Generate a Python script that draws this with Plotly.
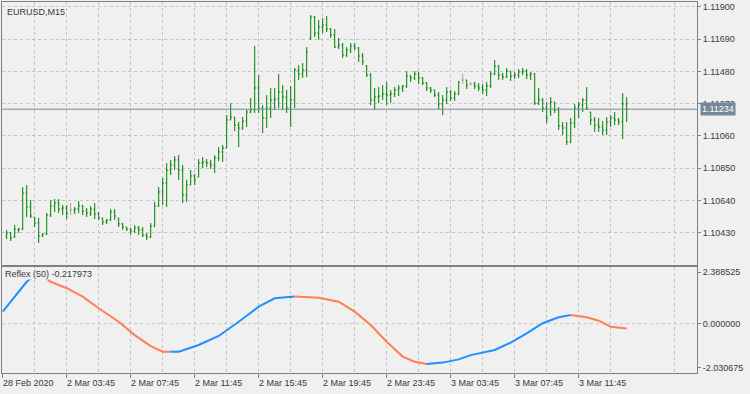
import plotly.graph_objects as go

# ---------------- data ----------------
bars = list(range(156))
open_ = [1.10410,1.10429,1.10403,1.10449,1.10455,1.10689,1.10598,1.10533,1.10494,1.10410,
         1.10423,1.10546,1.10605,1.10624,1.10585,1.10592,1.10579,1.10579,1.10585,1.10605,
         1.10572,1.10559,1.10585,1.10553,1.10527,1.10501,1.10514,1.10566,1.10527,1.10488,
         1.10468,1.10455,1.10442,1.10462,1.10449,1.10416,1.10403,1.10475,1.10605,1.10696,
         1.10754,1.10839,1.10871,1.10904,1.10839,1.10676,1.10741,1.10800,1.10793,1.10884,
         1.10891,1.10884,1.10871,1.10917,1.10956,1.10982,1.11164,1.11183,1.11131,1.11112,
         1.11157,1.11216,1.11229,1.11372,1.11242,1.11177,1.11242,1.11294,1.11300,1.11346,
         1.11313,1.11242,1.11294,1.11489,1.11463,1.11489,1.11697,1.11833,1.11729,1.11768,
         1.11781,1.11755,1.11716,1.11638,1.11651,1.11586,1.11619,1.11645,1.11632,1.11580,
         1.11515,1.11456,1.11294,1.11313,1.11320,1.11333,1.11326,1.11333,1.11359,1.11372,
         1.11385,1.11450,1.11437,1.11463,1.11437,1.11404,1.11372,1.11359,1.11326,1.11268,
         1.11294,1.11346,1.11307,1.11333,1.11424,1.11424,1.11398,1.11398,1.11385,1.11372,
         1.11359,1.11385,1.11463,1.11515,1.11456,1.11443,1.11482,1.11450,1.11456,1.11476,
         1.11482,1.11456,1.11463,1.11274,1.11294,1.11242,1.11216,1.11281,1.11229,1.11125,
         1.11112,1.11021,1.11144,1.11242,1.11261,1.11294,1.11216,1.11164,1.11131,1.11118,
         1.11099,1.11151,1.11177,1.11164,1.11151,1.11268]
high = [1.10449,1.10436,1.10481,1.10462,1.10728,1.10741,1.10644,1.10533,1.10527,1.10429,
        1.10559,1.10644,1.10650,1.10650,1.10611,1.10611,1.10624,1.10598,1.10637,1.10611,
        1.10592,1.10605,1.10624,1.10566,1.10527,1.10520,1.10585,1.10585,1.10527,1.10494,
        1.10468,1.10462,1.10481,1.10475,1.10468,1.10429,1.10494,1.10631,1.10728,1.10787,
        1.10884,1.10904,1.10930,1.10936,1.10871,1.10774,1.10839,1.10813,1.10910,1.10923,
        1.10910,1.10904,1.10936,1.10988,1.11001,1.11196,1.11274,1.11183,1.11151,1.11183,
        1.11229,1.11307,1.11645,1.11456,1.11261,1.11326,1.11372,1.11372,1.11463,1.11391,
        1.11359,1.11385,1.11502,1.11521,1.11534,1.11638,1.11846,1.11840,1.11814,1.11827,
        1.11840,1.11762,1.11755,1.11697,1.11664,1.11638,1.11664,1.11664,1.11638,1.11599,
        1.11521,1.11469,1.11372,1.11378,1.11391,1.11411,1.11359,1.11378,1.11391,1.11391,
        1.11482,1.11456,1.11482,1.11476,1.11443,1.11411,1.11378,1.11359,1.11346,1.11326,
        1.11378,1.11359,1.11352,1.11417,1.11463,1.11424,1.11411,1.11411,1.11404,1.11398,
        1.11411,1.11482,1.11554,1.11521,1.11469,1.11502,1.11482,1.11476,1.11495,1.11502,
        1.11495,1.11476,1.11469,1.11372,1.11307,1.11281,1.11313,1.11281,1.11248,1.11151,
        1.11151,1.11177,1.11268,1.11281,1.11307,1.11378,1.11216,1.11183,1.11177,1.11157,
        1.11183,1.11196,1.11216,1.11177,1.11339,1.11313]
low = [1.10390,1.10377,1.10397,1.10429,1.10449,1.10533,1.10527,1.10468,1.10364,1.10403,
       1.10416,1.10533,1.10566,1.10559,1.10546,1.10520,1.10546,1.10553,1.10559,1.10546,
       1.10533,1.10540,1.10520,1.10514,1.10481,1.10488,1.10507,1.10514,1.10468,1.10449,
       1.10442,1.10416,1.10429,1.10416,1.10403,1.10384,1.10397,1.10468,1.10598,1.10611,
       1.10598,1.10806,1.10839,1.10774,1.10624,1.10631,1.10741,1.10741,1.10793,1.10852,
       1.10858,1.10845,1.10819,1.10897,1.10891,1.10982,1.11164,1.11092,1.10988,1.11099,
       1.11118,1.11209,1.11209,1.11209,1.11079,1.11112,1.11177,1.11229,1.11242,1.11229,
       1.11209,1.11118,1.11242,1.11424,1.11437,1.11443,1.11684,1.11703,1.11684,1.11729,
       1.11736,1.11697,1.11632,1.11625,1.11567,1.11573,1.11599,1.11619,1.11541,1.11521,
       1.11443,1.11261,1.11229,1.11274,1.11294,1.11261,1.11274,1.11313,1.11320,1.11346,
       1.11372,1.11411,1.11424,1.11398,1.11391,1.11352,1.11339,1.11313,1.11235,1.11196,
       1.11268,1.11287,1.11287,1.11326,1.11398,1.11365,1.11391,1.11365,1.11352,1.11333,
       1.11320,1.11372,1.11456,1.11424,1.11424,1.11437,1.11417,1.11430,1.11437,1.11456,
       1.11430,1.11424,1.11261,1.11261,1.11216,1.11144,1.11190,1.11209,1.11099,1.11066,
       1.11001,1.11014,1.11112,1.11177,1.11216,1.11229,1.11131,1.11086,1.11086,1.11066,
       1.11066,1.11118,1.11131,1.11131,1.11040,1.11151]
close = [1.10429,1.10397,1.10455,1.10455,1.10689,1.10598,1.10540,1.10494,1.10410,1.10423,
         1.10546,1.10605,1.10624,1.10585,1.10592,1.10559,1.10579,1.10585,1.10605,1.10572,
         1.10559,1.10585,1.10553,1.10527,1.10501,1.10514,1.10566,1.10540,1.10488,1.10468,
         1.10455,1.10442,1.10462,1.10449,1.10416,1.10403,1.10475,1.10605,1.10696,1.10754,
         1.10839,1.10871,1.10904,1.10839,1.10676,1.10741,1.10800,1.10774,1.10884,1.10891,
         1.10884,1.10871,1.10917,1.10956,1.10982,1.11164,1.11183,1.11131,1.11112,1.11157,
         1.11216,1.11229,1.11372,1.11242,1.11177,1.11242,1.11294,1.11300,1.11346,1.11313,
         1.11242,1.11294,1.11489,1.11463,1.11489,1.11606,1.11833,1.11729,1.11768,1.11781,
         1.11755,1.11716,1.11638,1.11651,1.11586,1.11619,1.11645,1.11632,1.11580,1.11541,
         1.11456,1.11294,1.11313,1.11320,1.11333,1.11326,1.11333,1.11359,1.11372,1.11385,
         1.11450,1.11437,1.11463,1.11437,1.11404,1.11372,1.11359,1.11326,1.11268,1.11294,
         1.11346,1.11307,1.11333,1.11411,1.11424,1.11391,1.11398,1.11385,1.11372,1.11359,
         1.11385,1.11463,1.11515,1.11456,1.11443,1.11482,1.11450,1.11456,1.11476,1.11482,
         1.11456,1.11463,1.11274,1.11294,1.11242,1.11177,1.11281,1.11229,1.11125,1.11112,
         1.11021,1.11144,1.11242,1.11261,1.11294,1.11242,1.11164,1.11131,1.11118,1.11099,
         1.11151,1.11177,1.11164,1.11151,1.11268,1.11234]
doji_bars = [16, 114, 116]

# Reflex(50) indicator readings (bar index, value)
reflex_bar = [-1, 5, 8, 11, 15, 19, 23, 28, 32, 36, 39, 41, 43, 48, 53, 58, 63, 67, 72, 75,
              78, 83, 87, 91, 95, 99, 102, 105, 109, 113, 116, 122, 126, 130, 134, 138, 141,
              145, 148, 151, 155]
reflex_val = [0.56, 1.95, 2.39, 1.95, 1.65, 1.26, 0.72, 0.09, -0.53, -1.04, -1.30, -1.31, -1.30,
              -0.99, -0.57, 0.09, 0.79, 1.18, 1.26, 1.25, 1.21, 1.02, 0.56, -0.06, -0.84, -1.53,
              -1.77, -1.87, -1.81, -1.66, -1.46, -1.22, -0.88, -0.45, 0.02, 0.30, 0.40, 0.30,
              0.14, -0.14, -0.218]

time_label_bars = [-1, 15, 31, 47, 63, 79, 95, 111, 127, 143]
time_labels = ["28 Feb 2020", "2 Mar 03:45", "2 Mar 07:45", "2 Mar 11:45", "2 Mar 15:45",
               "2 Mar 19:45", "2 Mar 23:45", "3 Mar 03:45", "3 Mar 07:45", "3 Mar 11:45"]
grid_minor_bars = [7, 23, 39, 55, 71, 87, 103, 119, 135, 151, 167]
price_ticks = [1.11900, 1.11690, 1.11480, 1.11270, 1.11060, 1.10850, 1.10640, 1.10430]
reflex_ticks = [2.388525, 0.0, -2.030675]
reflex_ticktext = ["2.388525", "0.000000", "-2.030675"]
bid = 1.11234
symbol_text = "EURUSD,M15"
indicator_text = "Reflex (50) -0.217973"

# ---------------- style ----------------
BG = "#f0f0f0"
GREEN = "#008000"
DOJI = "#a0a0a0"
BORDER = "#808080"
GRID = "#c4c4c4"
TXT = "#3a3a3a"
BLUE = "#1e90ff"
ORANGE = "#ff7f50"
BIDC = "#778899"
FONT = "Liberation Sans"
XR = [-1.175, 172.575]

fig = go.Figure()

norm = [i for i in bars if i not in doji_bars]
fig.add_trace(go.Ohlc(
    x=norm, open=[open_[i] for i in norm], high=[high[i] for i in norm],
    low=[low[i] for i in norm], close=[close[i] for i in norm],
    increasing=dict(line=dict(color=GREEN, width=1)),
    decreasing=dict(line=dict(color=GREEN, width=1)),
    tickwidth=0.3, hoverinfo="skip", showlegend=False, xaxis="x", yaxis="y"))
fig.add_trace(go.Ohlc(
    x=doji_bars, open=[open_[i] for i in doji_bars], high=[high[i] for i in doji_bars],
    low=[low[i] for i in doji_bars], close=[close[i] for i in doji_bars],
    increasing=dict(line=dict(color=DOJI, width=1)),
    decreasing=dict(line=dict(color=DOJI, width=1)),
    tickwidth=0.3, hoverinfo="skip", showlegend=False, xaxis="x", yaxis="y"))

# indicator: colour by direction, grouped into runs
runs = []
for k in range(len(reflex_bar) - 1):
    col = BLUE if reflex_val[k + 1] >= reflex_val[k] else ORANGE
    if runs and runs[-1][0] == col:
        runs[-1][1].append(k + 1)
    else:
        runs.append([col, [k, k + 1]])
for col, idx in runs:
    fig.add_trace(go.Scatter(
        x=[reflex_bar[j] for j in idx], y=[reflex_val[j] for j in idx],
        mode="lines", line=dict(color=col, width=2), hoverinfo="skip",
        showlegend=False, xaxis="x2", yaxis="y2"))

axis_common = dict(showline=True, mirror=True, linecolor=BORDER, linewidth=1,
                   zeroline=False, gridcolor=GRID, griddash="3px,3px", gridwidth=1)

fig.update_layout(
    width=750, height=394,
    margin=dict(l=2, r=53, t=2, b=21, pad=0),
    paper_bgcolor=BG, plot_bgcolor=BG,
    font=dict(family=FONT, size=9, color=TXT),
    showlegend=False, hovermode=False,
    xaxis=dict(domain=[0, 1], range=XR, anchor="y",
               tickvals=sorted(grid_minor_bars + time_label_bars), showticklabels=False,
               ticks="", showgrid=True, rangeslider=dict(visible=False), **axis_common),
    yaxis=dict(domain=[0.2898, 1], range=[1.10218, 1.11931], side="right", anchor="x",
               tickvals=price_ticks, ticktext=[f"{p:.5f}" for p in price_ticks],
               ticks="outside", ticklen=3, tickcolor=BORDER, showgrid=True, **axis_common),
    xaxis2=dict(domain=[0, 1], range=XR, anchor="y2",
                tickvals=time_label_bars, showticklabels=False, ticks="outside",
                ticklen=4, tickcolor=BORDER, showgrid=True,
                minor=dict(tickvals=grid_minor_bars, showgrid=True, gridcolor=GRID,
                           griddash="3px,3px", ticks=""),
                **axis_common),
    yaxis2=dict(domain=[0, 0.2863], range=[-2.293, 2.647], side="right", anchor="x2",
                tickvals=reflex_ticks, ticktext=reflex_ticktext, ticks="outside",
                ticklen=3, tickcolor=BORDER, showgrid=False, **axis_common),
)

# zero line of the indicator
fig.add_shape(type="line", xref="x2 domain", x0=0, x1=1, yref="y2", y0=0, y1=0,
              line=dict(color=GRID, width=1, dash="3px,3px"), layer="below")
# bid line
fig.add_shape(type="line", xref="x domain", x0=0, x1=1, yref="y", y0=bid, y1=bid,
              line=dict(color=BIDC, width=1))

annotations = [
    dict(text=symbol_text, xref="x domain", yref="y domain", x=0.004, y=0.99,
         xanchor="left", yanchor="top", showarrow=False, font=dict(size=9, color=TXT)),
    dict(text=indicator_text, xref="x2 domain", yref="y2 domain", x=0.003, y=0.985,
         xanchor="left", yanchor="top", showarrow=False, bgcolor=BG, borderpad=0,
         font=dict(size=9, color=TXT)),
    dict(text=f"{bid:.5f}", xref="paper", yref="y", x=1.004, y=bid,
         xanchor="left", yanchor="middle", showarrow=False, bgcolor=BIDC, borderpad=1,
         font=dict(size=9, color="white")),
]
for b, t in zip(time_label_bars, time_labels):
    annotations.append(dict(text=t, xref="x2", yref="paper", x=b, y=0, xanchor="left",
                            yanchor="top", yshift=-3, xshift=-2, showarrow=False,
                            font=dict(size=9, color=TXT)))
fig.update_layout(annotations=annotations)

fig.write_html("out.html")
